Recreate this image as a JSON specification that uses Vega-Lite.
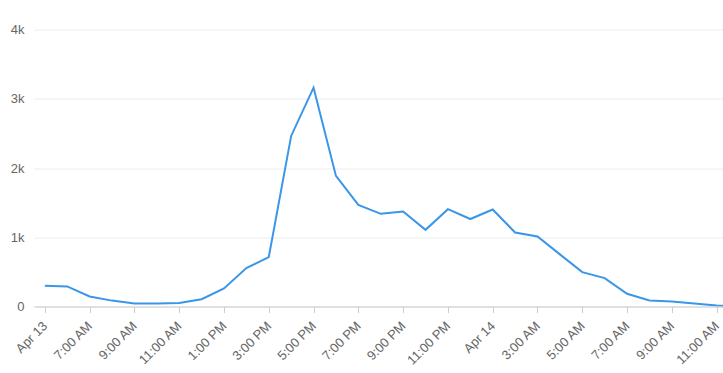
{
  "$schema": "https://vega.github.io/schema/vega-lite/v6.json",
  "width": 689,
  "height": 277,
  "autosize": {"type": "none"},
  "padding": {"left": 34, "top": 29.5, "right": 0, "bottom": 66},
  "background": "white",
  "config": {
    "view": {"stroke": null},
    "font": "Liberation Sans"
  },
  "data": {
    "values": [
      {"t": "2023-04-13T05:00:00Z", "v": 300},
      {"t": "2023-04-13T06:00:00Z", "v": 290},
      {"t": "2023-04-13T07:00:00Z", "v": 145},
      {"t": "2023-04-13T08:00:00Z", "v": 85},
      {"t": "2023-04-13T09:00:00Z", "v": 45},
      {"t": "2023-04-13T10:00:00Z", "v": 45},
      {"t": "2023-04-13T11:00:00Z", "v": 50},
      {"t": "2023-04-13T12:00:00Z", "v": 105},
      {"t": "2023-04-13T13:00:00Z", "v": 260},
      {"t": "2023-04-13T14:00:00Z", "v": 555},
      {"t": "2023-04-13T15:00:00Z", "v": 713},
      {"t": "2023-04-13T16:00:00Z", "v": 2463},
      {"t": "2023-04-13T17:00:00Z", "v": 3160},
      {"t": "2023-04-13T18:00:00Z", "v": 1886},
      {"t": "2023-04-13T19:00:00Z", "v": 1468},
      {"t": "2023-04-13T20:00:00Z", "v": 1338},
      {"t": "2023-04-13T21:00:00Z", "v": 1371},
      {"t": "2023-04-13T22:00:00Z", "v": 1107},
      {"t": "2023-04-13T23:00:00Z", "v": 1405},
      {"t": "2023-04-14T00:00:00Z", "v": 1263},
      {"t": "2023-04-14T01:00:00Z", "v": 1400},
      {"t": "2023-04-14T02:00:00Z", "v": 1068},
      {"t": "2023-04-14T03:00:00Z", "v": 1010},
      {"t": "2023-04-14T04:00:00Z", "v": 753},
      {"t": "2023-04-14T05:00:00Z", "v": 496},
      {"t": "2023-04-14T06:00:00Z", "v": 410},
      {"t": "2023-04-14T07:00:00Z", "v": 183},
      {"t": "2023-04-14T08:00:00Z", "v": 87},
      {"t": "2023-04-14T09:00:00Z", "v": 72},
      {"t": "2023-04-14T10:00:00Z", "v": 45},
      {"t": "2023-04-14T11:00:00Z", "v": 15},
      {"t": "2023-04-14T12:00:00Z", "v": 5}
    ]
  },
  "mark": {"type": "line", "color": "#3a96e8", "strokeWidth": 2, "clip": true},
  "encoding": {
    "x": {
      "field": "t",
      "type": "temporal",
      "title": null,
      "scale": {"type": "utc", "domain": [{"year": 2023, "month": 4, "date": 13, "hours": 4, "minutes": 31, "utc": true}, {"year": 2023, "month": 4, "date": 14, "hours": 11, "minutes": 17, "utc": true}]},
      "axis": {
        "values": [
          {"year": 2023, "month": 4, "date": 13, "hours": 5, "utc": true},
          {"year": 2023, "month": 4, "date": 13, "hours": 7, "utc": true},
          {"year": 2023, "month": 4, "date": 13, "hours": 9, "utc": true},
          {"year": 2023, "month": 4, "date": 13, "hours": 11, "utc": true},
          {"year": 2023, "month": 4, "date": 13, "hours": 13, "utc": true},
          {"year": 2023, "month": 4, "date": 13, "hours": 15, "utc": true},
          {"year": 2023, "month": 4, "date": 13, "hours": 17, "utc": true},
          {"year": 2023, "month": 4, "date": 13, "hours": 19, "utc": true},
          {"year": 2023, "month": 4, "date": 13, "hours": 21, "utc": true},
          {"year": 2023, "month": 4, "date": 13, "hours": 23, "utc": true},
          {"year": 2023, "month": 4, "date": 14, "hours": 1, "utc": true},
          {"year": 2023, "month": 4, "date": 14, "hours": 3, "utc": true},
          {"year": 2023, "month": 4, "date": 14, "hours": 5, "utc": true},
          {"year": 2023, "month": 4, "date": 14, "hours": 7, "utc": true},
          {"year": 2023, "month": 4, "date": 14, "hours": 9, "utc": true},
          {"year": 2023, "month": 4, "date": 14, "hours": 11, "utc": true}
        ],
        "labelExpr": "utchours(datum.value) == 5 && utcdate(datum.value) == 13 ? 'Apr 13' : (utchours(datum.value) == 1 ? 'Apr 14' : utcFormat(datum.value, '%-I:%M %p'))",
        "labelAngle": -45,
        "labelAlign": "right",
        "labelBaseline": "middle",
        "labelFontSize": 13,
        "labelColor": "#666666",
        "labelPadding": 11,
        "labelOverlap": false,
        "labelFlush": false,
        "grid": false,
        "domainColor": "#cccccc",
        "tickColor": "#cccccc",
        "tickSize": 6
      }
    },
    "y": {
      "field": "v",
      "type": "quantitative",
      "title": null,
      "scale": {"domain": [0, 4000], "nice": false},
      "axis": {
        "values": [0, 1000, 2000, 3000, 4000],
        "labelExpr": "datum.value == 0 ? '0' : (datum.value / 1000) + 'k'",
        "labelFontSize": 13,
        "labelColor": "#666666",
        "labelPadding": 10,
        "domain": false,
        "ticks": false,
        "gridColor": "#ececec",
        "gridWidth": 1
      }
    }
  }
}
